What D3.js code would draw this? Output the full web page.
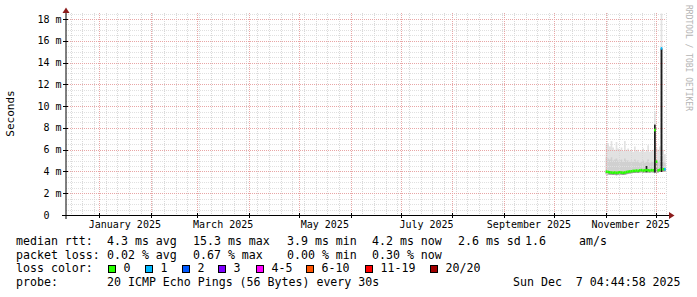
<!DOCTYPE html>
<html>
<head>
<meta charset="utf-8">
<script src="https://cdn.jsdelivr.net/npm/d3@7"></script>
<style>
  body { margin: 0; background: #fff; }
  svg { display: block; }
  text { font-family: "DejaVu Sans Mono", monospace; white-space: pre; }
</style>
</head>
<body>
<div id="chart"></div>
<script>
// smokeping yearly view, one entry per day (Nov 1 .. Dec 6 2025)
const days = [
  "2025-11-01", "2025-11-02", "2025-11-03", "2025-11-04", "2025-11-05", "2025-11-06",
  "2025-11-07", "2025-11-08", "2025-11-09", "2025-11-10", "2025-11-11", "2025-11-12",
  "2025-11-13", "2025-11-14", "2025-11-15", "2025-11-16", "2025-11-17", "2025-11-18",
  "2025-11-19", "2025-11-20", "2025-11-21", "2025-11-22", "2025-11-23", "2025-11-24",
  "2025-11-25", "2025-11-26", "2025-11-27", "2025-11-28", "2025-11-29", "2025-11-30",
  "2025-12-01", "2025-12-02", "2025-12-03", "2025-12-04", "2025-12-05", "2025-12-06"
];
// median rtt, ms
const median = [
  3.98, 3.95, 3.92, 3.90, 3.88, 3.90, 3.87, 3.90, 3.92, 3.90, 3.88, 3.90,
  3.95, 3.98, 4.00, 4.02, 4.05, 4.05, 4.08, 4.05, 4.10, 4.12, 4.08, 4.10,
  4.12, 4.10, 4.08, 4.12, 4.10, 7.80, 4.90, 4.10, 4.15, 15.3, 4.20, 4.20
];
// index into lossColors
const lossIdx = [
  0, 0, 0, 0, 0, 0, 0, 0, 0, 0, 0, 0,
  0, 0, 0, 0, 0, 0, 0, 0, 0, 0, 0, 0,
  0, 0, 0, 0, 0, 0, 0, 0, 0, 1, 0, 1
];
// smoke bands, ms
const smokeLo = [
  3.75, 3.72, 3.70, 3.70, 3.68, 3.70, 3.66, 3.70, 3.72, 3.70, 3.68, 3.70,
  3.75, 3.78, 3.80, 3.82, 3.85, 3.85, 3.88, 3.85, 3.90, 3.92, 3.88, 3.90,
  3.92, 3.90, 3.88, 3.92, 3.90, 3.90, 3.90, 3.90, 3.95, 3.95, 4.00, 4.00
];
const smokeMid = [
  5.3, 5.2, 5.1, 5.3, 5.0, 5.1, 5.2, 5.0, 5.0, 5.1, 4.9, 5.2,
  5.0, 5.0, 4.9, 5.0, 4.9, 5.1, 4.9, 5.0, 4.8, 4.9, 5.0, 4.8,
  4.9, 5.1, 4.8, 4.9, 4.9, 5.5, 5.0, 4.9, 5.0, 5.5, 4.9, 4.8
];
const smokeHi = [
  6.5, 6.6, 6.3, 6.8, 6.2, 6.0, 6.7, 6.1, 6.0, 6.2, 5.9, 6.8,
  6.0, 6.1, 5.9, 6.0, 5.8, 6.3, 5.9, 6.0, 5.8, 5.9, 6.1, 5.8,
  5.9, 6.4, 5.8, 5.9, 6.0, 9.5, 6.2, 6.0, 6.3, 18.5, 6.0, 5.6
];
// dense (black) smoke top, ms
const coreHi = [
  null, null, null, null, null, null, null, null, null, null, null, null,
  null, null, null, null, null, null, null, null, null, null, null, null,
  4.5, null, null, null, null, 8.3, null, null, null, 15.3, null, null
];

const yTicks = [0, 2, 4, 6, 8, 10, 12, 14, 16, 18];
const xLabelMonths = ["2025-01-01", "2025-03-01", "2025-05-01", "2025-07-01", "2025-09-01", "2025-11-01"];

const lossLabels = ["0", "1", "2", "3", "4-5", "6-10", "11-19", "20/20"];
const lossColors = ["#26ff00", "#00b8ff", "#0059ff", "#7e00ff", "#ff00ff", "#ff5500", "#ff0000", "#a10000"];

const legendRtt = ["median rtt:", "4.3 ms avg", "15.3 ms max", "3.9 ms min", "4.2 ms now", "2.6 ms sd", "1.6", "am/s"];
const legendLoss = ["packet loss:", "0.02 % avg", "0.67 % max", "0.00 % min", "0.30 % now"];
const probeText = ["probe:", "20 ICMP Echo Pings (56 Bytes) every 30s", "Sun Dec  7 04:44:58 2025"];

const endTime = new Date("2025-12-07T04:44:58Z");
const startTime = d3.utcDay.offset(endTime, -360);

const W = 697, H = 297;
const plot = { left: 66, right: 666, top: 13, bottom: 215 };

const svg = d3.select("#chart").append("svg").attr("width", W).attr("height", H);
svg.append("rect").attr("width", W).attr("height", H).attr("fill", "#fff");

const x = d3.scaleUtc().domain([startTime, endTime]).range([plot.left, plot.right]);
const y = d3.scaleLinear().domain([0, 18.55]).range([plot.bottom, plot.top]);

const parse = d3.utcParse("%Y-%m-%d");
const pts = days.map((d, i) => ({ t: parse(d), i }));
pts.push({ t: d3.utcDay.offset(pts[pts.length - 1].t, 1), i: days.length - 1 });

// smoke
function band(lo, hi, color) {
  svg.append("path")
    .datum(pts)
    .attr("fill", color)
    .attr("d", d3.area()
      .curve(d3.curveStepAfter)
      .x((p) => x(p.t))
      .y0((p) => y(lo[p.i]))
      .y1((p) => y(hi[p.i])));
}
band(smokeLo, smokeHi, "#e2e2e2");
band(smokeLo, smokeMid, "#d0d0d0");
band(smokeLo, median, "#9a9a9a");

// grid
const crisp = (v) => Math.round(v) + 0.5;
const grid = svg.append("g").attr("stroke-dasharray", "1,1").attr("stroke-width", 1);
d3.range(0.5, 18.55, 0.5).filter((v) => v % 2 !== 0).forEach((v) => {
  grid.append("line").attr("stroke", "#e0e0e0")
    .attr("x1", plot.left).attr("x2", plot.right)
    .attr("y1", crisp(y(v))).attr("y2", crisp(y(v)));
});
d3.utcSunday.range(startTime, endTime).forEach((t) => {
  grid.append("line").attr("stroke", "#d8d8d8")
    .attr("x1", crisp(x(t))).attr("x2", crisp(x(t)))
    .attr("y1", plot.top).attr("y2", plot.bottom);
});
yTicks.filter((v) => v > 0).forEach((v) => {
  grid.append("line").attr("stroke", "#e8a6a6")
    .attr("x1", plot.left).attr("x2", plot.right)
    .attr("y1", crisp(y(v))).attr("y2", crisp(y(v)));
});
d3.utcMonth.range(startTime, endTime).forEach((t) => {
  grid.append("line").attr("stroke", "#e8a6a6")
    .attr("x1", crisp(x(t))).attr("x2", crisp(x(t)))
    .attr("y1", plot.top).attr("y2", plot.bottom);
});

// dense smoke bars
svg.append("g").selectAll("rect")
  .data(pts.slice(0, days.length).filter((p) => coreHi[p.i] != null))
  .join("rect")
  .attr("fill", "#1c1c1c")
  .attr("x", (p) => x(p.t))
  .attr("width", (p) => x(d3.utcDay.offset(p.t, 1)) - x(p.t))
  .attr("y", (p) => y(coreHi[p.i]))
  .attr("height", (p) => y(smokeLo[p.i]) - y(coreHi[p.i]));

// median, coloured by loss
svg.append("g").selectAll("rect")
  .data(pts.slice(0, days.length))
  .join("rect")
  .attr("fill", (p) => lossColors[lossIdx[p.i]])
  .attr("x", (p) => x(p.t))
  .attr("width", (p) => x(d3.utcDay.offset(p.t, 1)) - x(p.t))
  .attr("y", (p) => y(median[p.i]) - 1.3)
  .attr("height", 2.6);

// axes
svg.append("line").attr("stroke", "#000")
  .attr("x1", 62).attr("x2", 670).attr("y1", plot.bottom + 0.5).attr("y2", plot.bottom + 0.5);
svg.append("line").attr("stroke", "#000")
  .attr("x1", plot.left).attr("x2", plot.left).attr("y1", 219).attr("y2", 12);
yTicks.forEach((v) => {
  svg.append("line").attr("stroke", "#000")
    .attr("x1", plot.left - 3).attr("x2", plot.left + 2)
    .attr("y1", crisp(y(v))).attr("y2", crisp(y(v)));
});
d3.utcMonth.range(startTime, endTime).forEach((t) => {
  svg.append("line").attr("stroke", "#000")
    .attr("x1", crisp(x(t))).attr("x2", crisp(x(t)))
    .attr("y1", plot.bottom - 2).attr("y2", plot.bottom + 3);
});
svg.append("path").attr("fill", "#8b1c1c")
  .attr("d", `M${plot.left - 3.5},13 L${plot.left},7.5 L${plot.left + 3.5},13 Z`);
svg.append("path").attr("fill", "#8b1c1c")
  .attr("d", `M669,${plot.bottom + 0.5 - 3.5} L674.5,${plot.bottom + 0.5} L669,${plot.bottom + 0.5 + 3.5} Z`);

// axis labels
const yl = svg.append("g").attr("font-size", 10).attr("fill", "#000");
yTicks.forEach((v) => {
  yl.append("text").attr("x", 49.5).attr("y", y(v) + 3.6)
    .attr("text-anchor", "end").text(v);
  if (v !== 0) yl.append("text").attr("x", 55.5).attr("y", y(v) + 3.6).text("m");
});
const fmtMonth = d3.utcFormat("%B %Y");
xLabelMonths.forEach((m) => {
  const t0 = parse(m), t1 = d3.utcMonth.offset(t0, 1);
  yl.append("text").attr("x", (x(t0) + x(t1)) / 2).attr("y", 227.5)
    .attr("text-anchor", "middle").text(fmtMonth(t0));
});

svg.append("text").attr("font-size", 11).attr("text-anchor", "middle")
  .attr("transform", "translate(14,113.5) rotate(-90)").text("Seconds");
svg.append("text").attr("font-size", 8).attr("fill", "#b4b4b4")
  .attr("transform", "translate(685.5,5) rotate(90)").text("RRDTOOL / TOBI OETIKER");

// legend
const lg = svg.append("g").attr("font-size", 11.6).attr("fill", "#000");
const cols = [16, 107, 193, 287, 372, 458, 525, 579];
legendRtt.forEach((s, i) => lg.append("text").attr("x", cols[i]).attr("y", 245).text(s));
legendLoss.forEach((s, i) => lg.append("text").attr("x", cols[i]).attr("y", 258.7).text(s));
lg.append("text").attr("x", 16).attr("y", 272.3).text("loss color:");
const boxX = [109, 146, 182.7, 219.3, 257.3, 307.3, 365.7, 430.7];
lossLabels.forEach((s, i) => {
  lg.append("rect").attr("x", Math.round(boxX[i]) - 0.5).attr("y", 265.5)
    .attr("width", 7).attr("height", 7)
    .attr("fill", lossColors[i]).attr("stroke", "#000");
  lg.append("text").attr("x", Math.round(boxX[i]) + 14.5).attr("y", 272.3).text(s);
});
lg.append("text").attr("x", 16).attr("y", 286).text(probeText[0]);
lg.append("text").attr("x", 107).attr("y", 286).text(probeText[1]);
lg.append("text").attr("x", 513).attr("y", 286).text(probeText[2]);
</script>
</body>
</html>
